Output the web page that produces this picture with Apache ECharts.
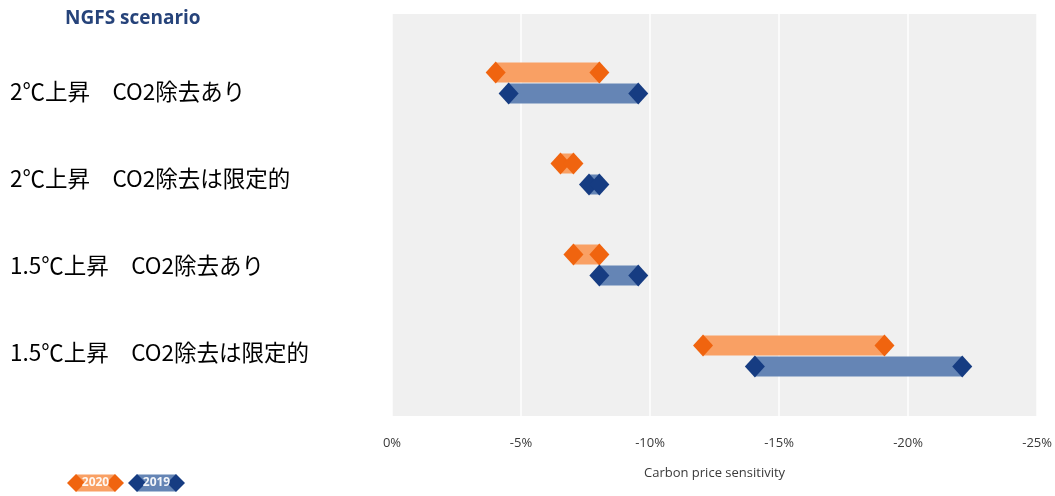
<!DOCTYPE html>
<html>
<head>
<meta charset="utf-8">
<script src="https://cdn.jsdelivr.net/npm/echarts@6/dist/echarts.min.js"></script>
<style>
  html, body { margin: 0; padding: 0; background: #ffffff; }
  #chart { width: 1055px; height: 496px; }
</style>
</head>
<body>
<div id="chart"></div>
<script>
// Scenario rows, top to bottom
const scenarios = [
  '2℃上昇　CO2除去あり',
  '2℃上昇　CO2除去は限定的',
  '1.5℃上昇　CO2除去あり',
  '1.5℃上昇　CO2除去は限定的'
];
// Carbon price sensitivity ranges (%), low and high end per scenario
const low2020  = [-4.0, -6.5, -7.0, -12.0];
const high2020 = [-8.0, -7.0, -8.0, -19.0];
const low2019  = [-4.5, -7.6, -8.0, -14.0];
const high2019 = [-9.5, -8.0, -9.5, -22.0];
const years = ['2020', '2019'];
const xTicks = { min: -25, max: 0, interval: 5 };

const palette = {
  '2020': { bar: '#f9a064', tip: '#f0640f' },
  '2019': { bar: '#6585b5', tip: '#163c82' }
};

const PLOT_LEFT = 392, PLOT_WIDTH = 648;

// Range bar with diamond ends
function rangeShape(x1, x2, cy, barH, dw, dh, c) {
  const l = Math.min(x1, x2), r = Math.max(x1, x2);
  const diamond = (cx) => ({
    type: 'polygon',
    shape: { points: [[cx - dw, cy], [cx, cy - dh], [cx + dw, cy], [cx, cy + dh]] },
    style: { fill: c.tip }
  });
  return [
    { type: 'rect', shape: { x: l, y: cy - barH / 2, width: r - l, height: barH }, style: { fill: c.bar } },
    diamond(l),
    diamond(r)
  ];
}

function rangeSeries(year, lows, highs, offset) {
  return {
    type: 'custom',
    name: year,
    xAxisIndex: 1,
    yAxisIndex: 1,
    data: scenarios.map((s, i) => [i, lows[i], highs[i]]),
    encode: { x: [1, 2], y: 0 },
    renderItem: function (params, api) {
      const p1 = api.coord([api.value(1), api.value(0)]);
      const p2 = api.coord([api.value(2), api.value(0)]);
      return {
        type: 'group',
        children: rangeShape(p1[0], p2[0], p1[1] + offset, 20, 10, 11, palette[year])
      };
    }
  };
}

function legendItem(year, x, y) {
  const c = palette[year];
  return {
    type: 'group',
    children: rangeShape(x + 9, x + 48, y, 17, 9, 9, c).concat([{
      type: 'text',
      x: x + 28.5, y: y,
      style: {
        text: year, fill: '#ffffff', opacity: 0.92,
        font: 'bold 12px "Open Sans", sans-serif',
        textAlign: 'center', textVerticalAlign: 'middle'
      }
    }])
  };
}

const chart = echarts.init(document.getElementById('chart'), null, { renderer: 'canvas' });

chart.setOption({
  animation: false,
  backgroundColor: '#ffffff',
  grid: [
    // plot background, ticks and grid lines
    { left: PLOT_LEFT, top: 14, width: PLOT_WIDTH, height: 402, show: true,
      backgroundColor: '#f0f0f0', borderWidth: 0 },
    // range bars
    { left: PLOT_LEFT, top: 37.5, width: PLOT_WIDTH, height: 364 },
    // scenario names
    { left: PLOT_LEFT, top: 47.5, width: PLOT_WIDTH, height: 349 }
  ],
  xAxis: [
    {
      gridIndex: 0, type: 'value', inverse: true,
      min: xTicks.min, max: xTicks.max, interval: xTicks.interval,
      axisLine: { show: false }, axisTick: { show: false },
      splitLine: { show: true, lineStyle: { color: '#ffffff', width: 1.5 } },
      axisLabel: {
        formatter: '{value}%', color: '#3a3a3a', fontSize: 13,
        fontFamily: '"Open Sans", sans-serif', margin: 21
      },
      name: 'Carbon price sensitivity', nameLocation: 'middle', nameGap: 51,
      nameTextStyle: { color: '#3a3a3a', fontSize: 13, fontFamily: '"Open Sans", sans-serif' }
    },
    { gridIndex: 1, type: 'value', inverse: true, min: xTicks.min, max: xTicks.max, show: false },
    { gridIndex: 2, type: 'value', inverse: true, min: xTicks.min, max: xTicks.max, show: false }
  ],
  yAxis: [
    { gridIndex: 0, type: 'value', show: false, min: 0, max: 1 },
    { gridIndex: 1, type: 'category', inverse: true, data: scenarios, show: false },
    {
      gridIndex: 2, type: 'category', inverse: true, data: scenarios,
      axisLine: { show: false }, axisTick: { show: false },
      axisLabel: {
        align: 'left', margin: PLOT_LEFT - 10, color: '#000000', fontSize: 22.5,
        fontFamily: '"Noto Sans CJK JP", sans-serif'
      }
    }
  ],
  series: [
    rangeSeries(years[0], low2020, high2020, -10.5),
    rangeSeries(years[1], low2019, high2019, 10.5)
  ],
  graphic: [
    {
      type: 'text', left: 65, top: 9,
      style: { text: 'NGFS scenario', fill: '#26437a', font: 'bold 19px "Open Sans", sans-serif' }
    },
    legendItem(years[0], 67, 483),
    legendItem(years[1], 128, 483)
  ]
});
</script>
</body>
</html>
